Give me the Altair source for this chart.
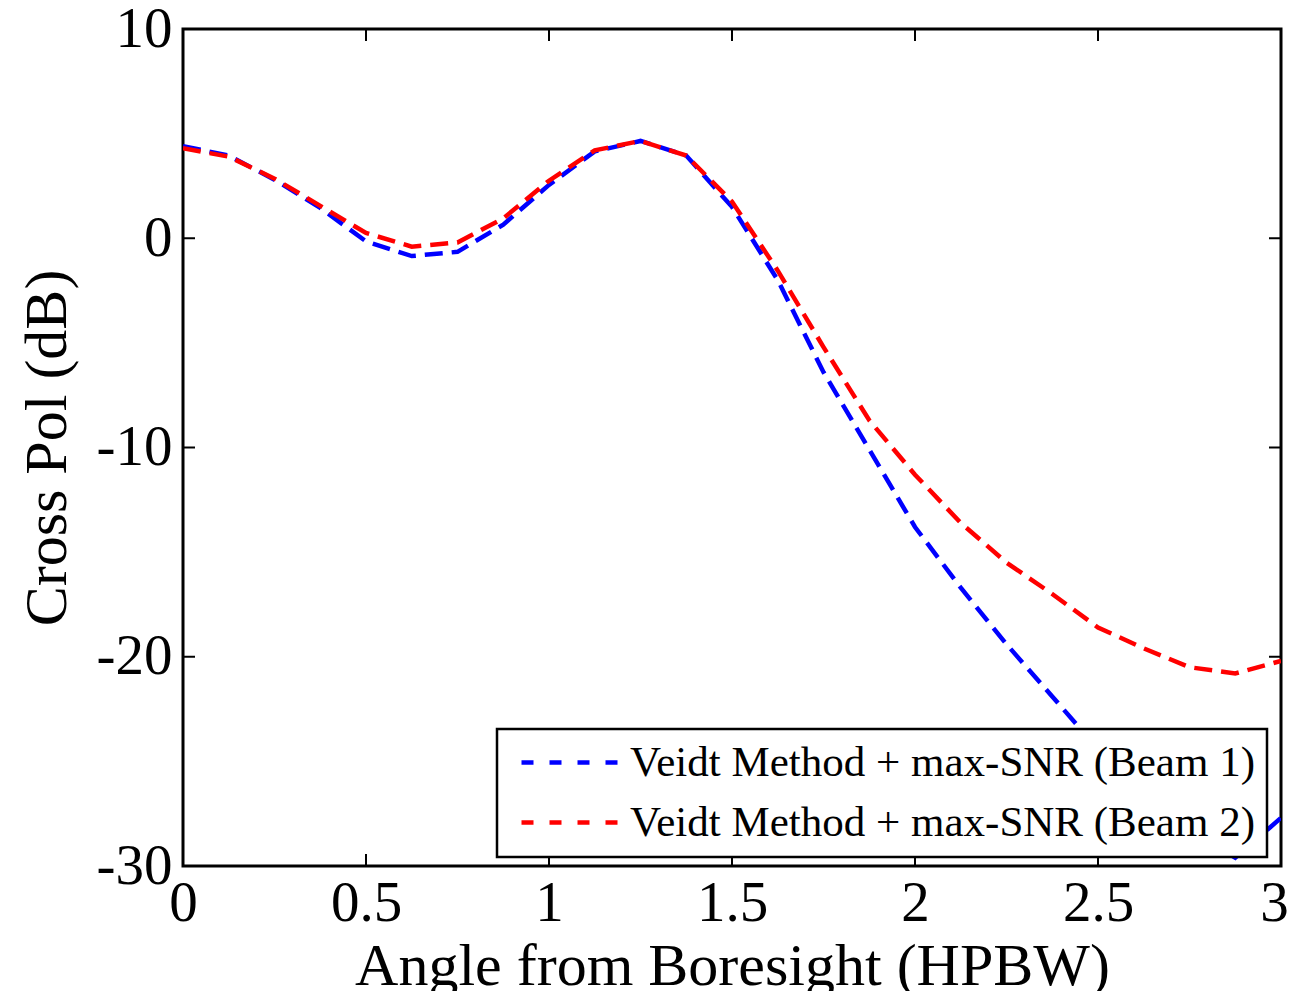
import altair as alt
import pandas as pd

# ---- data ----
angle = [0, 0.125, 0.25, 0.375, 0.5, 0.625, 0.75, 0.875, 1.0, 1.125, 1.25, 1.375,
         1.5, 1.625, 1.75, 1.875, 2.0, 2.125, 2.25, 2.375, 2.5, 2.625, 2.75, 2.875, 3.0]
beam1 = [4.4, 3.95, 2.8, 1.45, -0.15, -0.85, -0.65, 0.65, 2.55, 4.15, 4.65, 3.95,
         1.5, -2.0, -6.4, -10.1, -13.8, -16.7, -19.4, -21.9, -24.4, -26.6, -28.3, -29.6, -27.7]
beam2 = [4.3, 3.9, 2.85, 1.55, 0.25, -0.4, -0.2, 0.95, 2.75, 4.2, 4.65, 3.95,
         1.75, -1.55, -5.2, -8.7, -11.3, -13.6, -15.5, -17.0, -18.6, -19.6, -20.5, -20.8, -20.2]
series_names = ["Veidt Method + max-SNR (Beam 1)", "Veidt Method + max-SNR (Beam 2)"]
series_colors = ["#0000ff", "#ff0000"]
x_ticks = [0, 0.5, 1, 1.5, 2, 2.5, 3]
y_ticks = [-30, -20, -10, 0, 10]

W, H = 1098, 837
FONT = "Liberation Serif"

df = pd.DataFrame({
    "angle": angle * 2,
    "value": beam1 + beam2,
    "series": [series_names[0]] * len(angle) + [series_names[1]] * len(angle),
})
xt = pd.DataFrame({"v": x_ticks})
yt = pd.DataFrame({"v": y_ticks})

xscale = alt.Scale(domain=[0, 3], nice=False, zero=False)
yscale = alt.Scale(domain=[-30, 10], nice=False, zero=False)

lines = alt.Chart(df).mark_line(strokeWidth=4.5, strokeDash=[18, 9], clip=True).encode(
    x=alt.X("angle:Q", scale=xscale,
            axis=alt.Axis(title="Angle from Boresight (HPBW)", values=x_ticks,
                          labelExpr="'' + datum.value", labelFlush=False,
                          labelOffset={"condition": {"test": "datum.value == 3", "value": -7},
                                       "value": 0})),
    y=alt.Y("value:Q", scale=yscale,
            axis=alt.Axis(title="Cross Pol (dB)", values=y_ticks,
                          labelExpr="'' + datum.value", labelFlush=False)),
    color=alt.Color("series:N",
                    scale=alt.Scale(domain=series_names, range=series_colors),
                    legend=alt.Legend(title=None, orient="none", legendX=314, legendY=700,
                                      fillColor="white", strokeColor="black", padding=12,
                                      symbolType="M-5,0L5,0", symbolSize=400,
                                      symbolOffset=41, symbolFillColor="transparent",
                                      symbolStrokeWidth=4.5, symbolDash=[12, 16],
                                      labelFont=FONT, labelFontSize=43, labelOffset=37,
                                      labelLimit=1000, rowPadding=16)),
    order="angle:Q",
)

tick_len = 12
bx = alt.Chart(xt).mark_rule(color="black", strokeWidth=2).encode(
    x=alt.X("v:Q", scale=xscale), y=alt.value(H), y2=alt.value(H - tick_len))
tx = alt.Chart(xt).mark_rule(color="black", strokeWidth=2).encode(
    x=alt.X("v:Q", scale=xscale), y=alt.value(0), y2=alt.value(tick_len))
ly = alt.Chart(yt).mark_rule(color="black", strokeWidth=2).encode(
    y=alt.Y("v:Q", scale=yscale), x=alt.value(0), x2=alt.value(tick_len))
ry = alt.Chart(yt).mark_rule(color="black", strokeWidth=2).encode(
    y=alt.Y("v:Q", scale=yscale), x=alt.value(W), x2=alt.value(W - tick_len))

chart = alt.layer(bx, tx, ly, ry, lines).properties(
    width=W, height=H,
    padding={"left": 175, "top": 21, "right": 8, "bottom": 125},
    autosize=alt.AutoSizeParams(type="none"),
).configure_view(
    stroke="black", strokeWidth=3
).configure_axis(
    domain=False, ticks=False, grid=False,
    labelFont=FONT, labelFontSize=57, labelColor="black",
    titleFont=FONT, titleFontSize=60, titleFontWeight="normal", titleColor="black",
).configure_axisX(
    labelPadding=9, titlePadding=6,
).configure_axisY(
    labelPadding=11, titlePadding=18,
).configure_legend(
    strokeWidth=2.5
)

chart.save("out.html", embed_options={"renderer": "svg", "actions": False})
